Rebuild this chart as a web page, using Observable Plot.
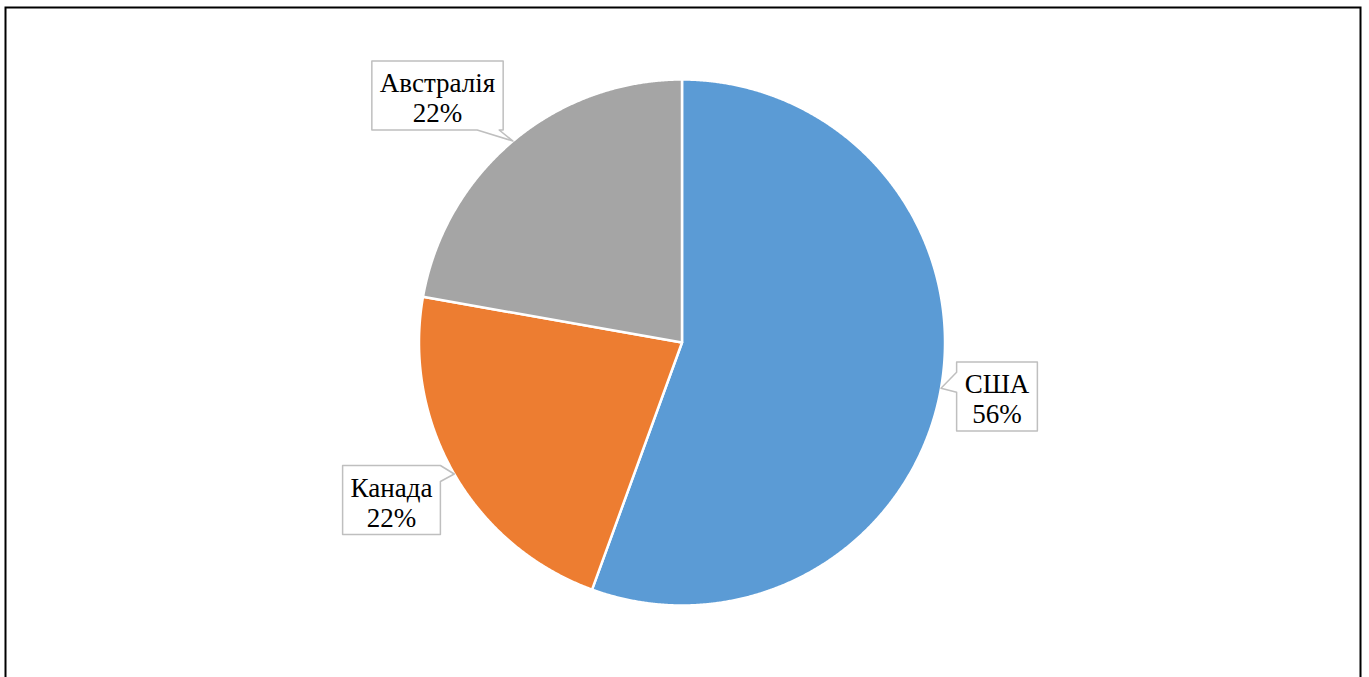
<!DOCTYPE html>
<html>
<head>
<meta charset="utf-8">
<script src="https://cdn.jsdelivr.net/npm/d3@7"></script>
<script src="https://cdn.jsdelivr.net/npm/@observablehq/plot@0.6"></script>
<style>
  body { margin: 0; background: #fff; }
  svg { display: block; }
  svg text { font-family: "Liberation Serif", "Times New Roman", serif !important; }
</style>
</head>
<body>
<div id="chart"></div>
<script>
// ---- data ----
const categories = ["США", "Канада", "Австралія"];
const values = [5, 2, 2];
const colors = ["#5B9BD5", "#ED7D31", "#A5A5A5"];

// ---- layout (pixels) ----
const W = 1369, H = 677;
const CX = 681.5, CY = 342, R = 263;
const labelCenters = [[996.5, 396], [391, 499.5], [437, 95]];
const boxHeight = 69;
const fontStack = '"Liberation Serif", "Times New Roman", serif';
const fontSize = 27;

const toData = ([px, py]) => ({x: px - CX, y: CY - py});

const total = d3.sum(values);
const arcs = d3.pie().sort(null).value(d => d)(values);

const slicePts = [];
arcs.forEach((a, i) => {
  slicePts.push({name: categories[i], x: 0, y: 0});
  const n = Math.ceil((a.endAngle - a.startAngle) / (Math.PI / 720));
  for (let k = 0; k <= n; k++) {
    const t = a.startAngle + (a.endAngle - a.startAngle) * k / n;
    slicePts.push({name: categories[i], x: R * Math.sin(t), y: R * Math.cos(t)});
  }
});

const ctx = document.createElement("canvas").getContext("2d");
ctx.font = `${fontSize}px ${fontStack}`;

const labels = arcs.map((a, i) => {
  const pct = Math.round(values[i] / total * 100) + "%";
  const mid = (a.startAngle + a.endAngle) / 2;
  const tip = [CX + R * Math.sin(mid), CY - R * Math.cos(mid)];
  const [cx, cy] = labelCenters[i];
  const w = Math.max(ctx.measureText(categories[i]).width, ctx.measureText(pct).width) + 16;
  return {name: categories[i], pct, tip, cx, cy, w, h: boxHeight};
});

const calloutPts = [];
labels.forEach(l => {
  const x1 = l.cx - l.w / 2, x2 = l.cx + l.w / 2, y1 = l.cy - l.h / 2, y2 = l.cy + l.h / 2;
  const [tx, ty] = l.tip;
  const pts = [[x1, y1], [x2, y1]];
  if (tx > x2 && ty >= y1 && ty <= y2) {
    const bTop = Math.max(y1, ty - 10), bBot = Math.min(y2, bTop + 16);
    pts.push([x2, bTop], l.tip, [x2, bBot]);
  }
  pts.push([x2, y2]);
  if (ty > y2) {
    const bR = Math.min(x2 - 4, tx - 10), bL = bR - 22;
    pts.push([bR, y2], l.tip, [bL, y2]);
  }
  pts.push([x1, y2]);
  if (tx < x1 && ty >= y1 && ty <= y2) {
    const bBot = Math.min(y2, ty + 4), bTop = bBot - 20;
    pts.push([x1, bBot], l.tip, [x1, bTop]);
  }
  pts.forEach(p => calloutPts.push({name: l.name, ...toData(p)}));
});

const textData = labels.map(l => ({...toData([l.cx, l.cy + 2]), text: `${l.name}\n${l.pct}`}));

const chart = Plot.plot({
  width: W,
  height: H,
  marginLeft: 5,
  marginTop: 7,
  marginRight: 9,
  marginBottom: 0,
  x: {domain: [-R, R], range: [CX - R, CX + R], axis: null},
  y: {domain: [-R, R], range: [CY + R, CY - R], axis: null},
  color: {domain: categories, range: colors},
  style: {background: "#fff", fontFamily: fontStack},
  marks: [
    Plot.frame({stroke: "#000", strokeWidth: 2, insetBottom: -10}),
    Plot.line(slicePts, {x: "x", y: "y", z: "name", fill: "name", stroke: "#fff", strokeWidth: 2.5, curve: "linear-closed", strokeLinejoin: "round"}),
    Plot.line(calloutPts, {x: "x", y: "y", z: "name", fill: "#fff", stroke: "#BFBFBF", strokeWidth: 1.5, curve: "linear-closed"}),
    Plot.text(textData, {x: "x", y: "y", text: "text", fontSize: fontSize, fontFamily: fontStack, fill: "#000", lineHeight: 1.11})
  ]
});
document.getElementById("chart").appendChild(chart);
</script>
</body>
</html>
